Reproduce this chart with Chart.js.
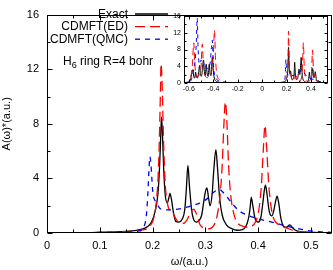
<!DOCTYPE html>
<html><head><meta charset="utf-8">
<script src="https://cdn.jsdelivr.net/npm/chart.js@4"></script>
<style>
html,body{margin:0;padding:0;background:#fff;}
#wrap{position:relative;width:333px;height:270px;overflow:hidden;background:#fff;}
#main{position:absolute;left:0;top:0;}
#inset{position:absolute;left:160px;top:8px;}
#note{position:absolute;left:63px;top:55px;font:12px "Liberation Sans",Arial,sans-serif;color:#000;white-space:nowrap;line-height:12px;}
#note sub{font-size:9px;vertical-align:-3px;line-height:0;}
</style></head>
<body><div id="wrap"><canvas id="main" width="333" height="270"></canvas><div id="note">H<sub>6</sub> ring R=4 bohr</div><canvas id="inset" width="173" height="92"></canvas></div>
<script>
// ---- data ----
const seriesNames = ['Exact', 'CDMFT(ED)', 'CDMFT(QMC)'];

const exactW = [0,0.05,0.1,0.15,0.17,0.18,0.19,0.198,0.205,0.21,0.213,0.215,0.217,0.219,0.221,0.224,0.228,0.231,0.233,0.236,0.24,0.244,0.25,0.256,0.261,0.264,0.267,0.27,0.274,0.279,0.283,0.288,0.293,0.297,0.3,0.303,0.306,0.309,0.313,0.316,0.32,0.323,0.327,0.332,0.34,0.35,0.36,0.37,0.377,0.382,0.385,0.387,0.39,0.394,0.4,0.405,0.409,0.412,0.414,0.417,0.421,0.426,0.43,0.433,0.436,0.439,0.443,0.448,0.454,0.46,0.465,0.47,0.48,0.5,0.54];
const exactA = [0.02,0.03,0.05,0.12,0.2,0.28,0.45,0.8,1.6,2.8,4.6,6.6,8.5,7.0,4.8,2.8,2.2,2.6,2.9,2.4,1.4,0.85,0.8,1.0,1.7,3.2,4.95,3.4,1.7,0.9,0.8,0.9,1.3,2.3,3.0,3.3,2.6,2.0,2.9,4.6,6.1,4.8,2.6,1.3,0.6,0.32,0.2,0.25,0.5,1.1,1.9,2.6,2.0,1.1,0.8,1.1,2.2,3.2,3.5,2.8,1.6,1.25,1.7,2.3,2.7,2.2,1.1,0.5,0.42,0.6,0.4,0.22,0.1,0.05,0.03];

const edW = [0,0.1,0.15,0.18,0.195,0.203,0.208,0.211,0.213,0.215,0.216,0.218,0.221,0.224,0.228,0.232,0.237,0.242,0.25,0.258,0.265,0.272,0.278,0.284,0.29,0.298,0.306,0.315,0.322,0.328,0.332,0.335,0.338,0.341,0.344,0.348,0.354,0.36,0.37,0.38,0.388,0.395,0.401,0.406,0.41,0.413,0.416,0.42,0.425,0.43,0.436,0.445,0.455,0.47,0.49,0.54];
const edA = [0.02,0.04,0.1,0.22,0.5,1.2,2.6,4.5,7.0,10.5,12.4,11.0,6.5,3.6,2.2,1.7,1.6,1.2,0.75,0.7,0.95,1.5,1.75,1.3,0.6,0.35,0.3,0.5,1.2,2.8,5.0,7.8,9.6,8.0,5.0,2.8,1.4,0.8,0.5,0.42,0.5,0.8,1.6,3.4,6.2,7.9,6.4,3.6,1.8,1.0,0.7,0.5,0.35,0.15,0.06,0.02];

const qmcW = [0,0.1,0.15,0.175,0.183,0.188,0.191,0.193,0.195,0.197,0.2,0.203,0.207,0.212,0.22,0.235,0.255,0.275,0.29,0.303,0.313,0.32,0.326,0.333,0.342,0.352,0.365,0.38,0.4,0.42,0.44,0.46,0.48,0.5,0.52,0.54];
const qmcA = [0.02,0.04,0.08,0.15,0.4,1.2,2.8,4.5,5.6,5.0,3.2,2.5,2.3,1.9,1.7,1.7,1.8,2.0,2.2,2.5,2.9,3.1,3.2,3.0,2.6,2.1,1.6,1.3,1.05,0.85,0.65,0.45,0.28,0.15,0.08,0.05];

// negative-frequency side (inset only)
const exactNegW = [-0.65,-0.62,-0.6,-0.585,-0.575,-0.568,-0.56,-0.552,-0.545,-0.538,-0.53,-0.52,-0.512,-0.505,-0.497,-0.488,-0.48,-0.472,-0.465,-0.458,-0.45,-0.442,-0.433,-0.425,-0.418,-0.408,-0.4,-0.392,-0.38,-0.36,-0.33,-0.3,-0.2,-0.1];
const exactNegA = [0.02,0.1,0.3,1.0,2.5,3.2,1.5,1.2,2.6,1.4,1.2,2.6,4.2,2.0,1.6,3.5,5.5,2.4,1.8,4.5,2.2,1.6,4.5,2.0,1.8,6.2,3.0,1.2,0.5,0.2,0.08,0.04,0.02,0.01];

const edNegW = [-0.65,-0.62,-0.6,-0.585,-0.572,-0.56,-0.552,-0.542,-0.528,-0.515,-0.5,-0.49,-0.48,-0.465,-0.45,-0.43,-0.41,-0.398,-0.39,-0.382,-0.37,-0.35,-0.32,-0.28,-0.2,-0.1];
const edNegA = [0.02,0.15,0.5,1.5,4.0,9.6,5.0,2.0,1.5,2.0,4.0,9.3,3.5,1.6,1.3,2.0,3.5,8.0,12.6,6.0,2.0,0.8,0.3,0.12,0.05,0.03];

const qmcNegW = [-0.65,-0.6,-0.58,-0.565,-0.55,-0.54,-0.532,-0.524,-0.515,-0.5,-0.485,-0.47,-0.455,-0.44,-0.425,-0.415,-0.408,-0.4,-0.39,-0.37,-0.34,-0.3,-0.2,-0.1];
const qmcNegA = [0.02,0.2,0.8,2.5,5.0,9.0,15.5,8.0,4.5,5.5,4.0,4.8,3.5,3.5,5.0,8.5,10.2,5.0,2.0,0.8,0.35,0.15,0.05,0.02];

// tick labels / tick positions
const mainXTicks = [0,0.1,0.2,0.3,0.4,0.5];
const mainXMinor = [0.05,0.15,0.25,0.35,0.45];
const mainYTicks = [0,4,8,12,16];
const mainYMinor = [2,6,10,14];
const insetXTicks = [-0.6,-0.4,-0.2,0,0.2,0.4];
const insetXMinor = [-0.5,-0.3,-0.1,0.1,0.3,0.5];
const insetYTicks = [0,4,8,12,16];
const insetYMinor = [2,6,10,14];

// ---- helpers ----
const FONT = '"Liberation Sans", Arial, sans-serif';
Chart.defaults.font.family = FONT;
Chart.defaults.color = '#000';
const pts = (w, a) => w.map((x, i) => ({x: x, y: a[i]}));

const frameTicks = {
  id: 'frameTicks',
  beforeDatasetsDraw(chart, args, o) {
    if (!o.fill) return;
    const {ctx, chartArea: a} = chart;
    ctx.save(); ctx.fillStyle = '#fff';
    ctx.fillRect(a.left, a.top, a.right - a.left, a.bottom - a.top);
    ctx.restore();
  },
  afterDatasetsDraw(chart, args, o) {
    const {ctx, chartArea: a, scales: {x, y}} = chart;
    const L = Math.round(a.left) + 0.5, R = Math.round(a.right) - 0.5;
    const T = Math.round(a.top) + 0.5, B = Math.round(a.bottom) - 0.5;
    ctx.save();
    ctx.strokeStyle = '#000'; ctx.lineWidth = 1; ctx.setLineDash([]);
    ctx.beginPath();
    const xt = (vals, len) => vals.forEach(v => {
      const p = Math.round(x.getPixelForValue(v)) + 0.5;
      ctx.moveTo(p, B); ctx.lineTo(p, B - len);
      ctx.moveTo(p, T); ctx.lineTo(p, T + len);
    });
    const yt = (vals, len) => vals.forEach(v => {
      const p = Math.round(y.getPixelForValue(v)) + 0.5;
      ctx.moveTo(L, p); ctx.lineTo(L + len, p);
      ctx.moveTo(R, p); ctx.lineTo(R - len, p);
    });
    xt(o.xMajor, o.maj); xt(o.xMinor, o.min);
    yt(o.yMajor, o.maj); yt(o.yMinor, o.min);
    ctx.stroke();
    ctx.strokeRect(L, T, R - L, B - T);
    ctx.restore();
  }
};

const inLegend = {
  id: 'inLegend',
  afterDatasetsDraw(chart, args, o) {
    if (!o.show) return;
    const ctx = chart.ctx;
    ctx.save();
    ctx.font = '12px ' + FONT;
    ctx.textAlign = 'right'; ctx.textBaseline = 'middle'; ctx.fillStyle = '#000';
    chart.data.datasets.forEach((d, i) => {
      const yy = o.y0 + i * o.dy;
      ctx.fillText(d.label, o.textX, yy + 0.5);
      ctx.beginPath();
      ctx.setLineDash(d.borderDash || []);
      ctx.strokeStyle = d.borderColor; ctx.lineWidth = d.borderWidth;
      ctx.moveTo(o.x1, yy); ctx.lineTo(o.x2, yy); ctx.stroke();
    });
    ctx.restore();
  }
};

function makeDatasets(exact, ed, qmc, lw, dashR, dashB) {
  return [
    {label: seriesNames[0], data: exact, borderColor: '#000000', borderWidth: lw, pointRadius: 0, cubicInterpolationMode: 'monotone', fill: false, order: 2},
    {label: seriesNames[1], data: ed, borderColor: '#ff0000', borderWidth: lw, borderDash: dashR, pointRadius: 0, cubicInterpolationMode: 'monotone', fill: false, order: 1},
    {label: seriesNames[2], data: qmc, borderColor: '#0000ff', borderWidth: lw, borderDash: dashB, pointRadius: 0, cubicInterpolationMode: 'monotone', fill: false, order: 0}
  ];
}

// ---- main chart ----
new Chart(document.getElementById('main'), {
  type: 'line',
  data: {datasets: makeDatasets(pts(exactW, exactA), pts(edW, edA), pts(qmcW, qmcA), 1.3, [10, 5], [5, 5])},
  options: {
    responsive: false, animation: false, devicePixelRatio: 1,
    layout: {padding: {top: 5, right: 1, left: 0, bottom: 0}},
    scales: {
      x: {
        type: 'linear', min: 0, max: 0.54,
        grid: {display: false, drawTicks: false}, border: {display: false},
        ticks: {font: {size: 11}, color: '#000', padding: 6, maxRotation: 0, autoSkip: false},
        afterBuildTicks: s => { s.ticks = mainXTicks.map(v => ({value: v})); },
        afterFit: s => { s.height = 37; },
        title: {display: true, text: 'ω/(a.u.)', font: {size: 11}, color: '#000', padding: {top: 0, bottom: 1}}
      },
      y: {
        type: 'linear', min: 0, max: 16,
        grid: {display: false, drawTicks: false}, border: {display: false},
        ticks: {font: {size: 11}, color: '#000', padding: 8},
        afterBuildTicks: s => { s.ticks = mainYTicks.map(v => ({value: v})); },
        afterFit: s => { s.width = 47; },
        title: {display: true, text: 'A(ω)*(a.u.)', font: {size: 11}, color: '#000', padding: {top: 0, bottom: 0}}
      }
    },
    plugins: {
      legend: {display: false}, tooltip: {enabled: false},
      frameTicks: {xMajor: mainXTicks, xMinor: mainXMinor, yMajor: mainYTicks, yMinor: mainYMinor, maj: 5, min: 3, fill: false},
      inLegend: {show: true, textX: 128, x1: 135, x2: 168, y0: 14, dy: 12.6}
    }
  },
  plugins: [frameTicks, inLegend]
});

// ---- inset ----
new Chart(document.getElementById('inset'), {
  type: 'line',
  data: {datasets: makeDatasets(
    pts(exactNegW.concat(exactW), exactNegA.concat(exactA)),
    pts(edNegW.concat(edW), edNegA.concat(edA)),
    pts(qmcNegW.concat(qmcW), qmcNegA.concat(qmcA)),
    1, [7, 4], [4, 4])},
  options: {
    responsive: false, animation: false, devicePixelRatio: 1,
    layout: {padding: {top: 8, right: 5, left: 0, bottom: 0}},
    scales: {
      x: {
        type: 'linear', min: -0.64, max: 0.54,
        grid: {display: false, drawTicks: false}, border: {display: false},
        ticks: {font: {size: 7}, color: '#000', padding: 2, maxRotation: 0, autoSkip: false},
        afterBuildTicks: s => { s.ticks = insetXTicks.map(v => ({value: v})); },
        afterFit: s => { s.height = 17; }
      },
      y: {
        type: 'linear', min: 0, max: 16,
        grid: {display: false, drawTicks: false}, border: {display: false},
        ticks: {font: {size: 7}, color: '#000', padding: 3},
        afterBuildTicks: s => { s.ticks = insetYTicks.map(v => ({value: v})); },
        afterFit: s => { s.width = 24; }
      }
    },
    plugins: {
      legend: {display: false}, tooltip: {enabled: false},
      frameTicks: {xMajor: insetXTicks, xMinor: insetXMinor, yMajor: insetYTicks, yMinor: insetYMinor, maj: 3, min: 2, fill: true},
      inLegend: {show: false}
    }
  },
  plugins: [frameTicks, inLegend]
});
</script>
</body></html>
